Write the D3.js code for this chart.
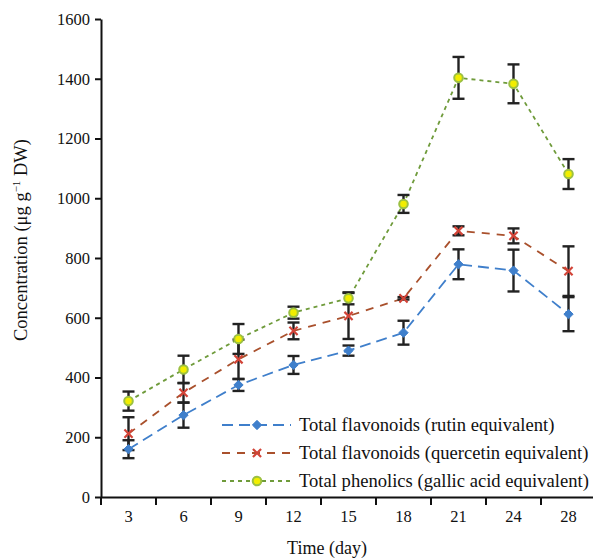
<!DOCTYPE html>
<html>
<head>
<meta charset="utf-8">
<script src="https://cdn.jsdelivr.net/npm/d3@7"></script>
<style>
  body { margin: 0; background: #fff; }
  svg { display: block; }
  svg text { font-family: "Liberation Serif", "Times New Roman", serif; }
</style>
</head>
<body>
<svg id="chart" width="593" height="559"></svg>
<script>
// data
var days = ["3", "6", "9", "12", "15", "18", "21", "24", "28"]
var rutin = [160, 274, 375, 442, 490, 550, 779, 758, 612]
var rutinErr = [30, 42, 20, 30, 17, 40, 50, 70, 57]
var quercetin = [212, 349, 461, 556, 606, 665, 891, 874, 756]
var quercetinErr = [55, 33, 66, 28, 77, 4, 15, 25, 83]
var phenolics = [321, 427, 529, 617, 665, 981, 1403, 1383, 1081]
var phenolicsErr = [32, 46, 50, 20, 20, 30, 70, 65, 50]
var yTicks = [0, 200, 400, 600, 800, 1000, 1200, 1400, 1600]

var series = [
  {name: "Total flavonoids (rutin equivalent)", values: rutin, err: rutinErr,
   line: "#3f7fcb", dash: "11,6", marker: "diamond"},
  {name: "Total flavonoids (quercetin equivalent)", values: quercetin, err: quercetinErr,
   line: "#a9502c", dash: "8,7", marker: "cross"},
  {name: "Total phenolics (gallic acid equivalent)", values: phenolics, err: phenolicsErr,
   line: "#6f9b3b", dash: "4,4", marker: "circle"}
]

var svg = d3.select("#chart")

var x = d3.scaleBand().domain(days).range([101, 596])
var y = d3.scaleLinear().domain([0, 1600]).range([497, 19])

var cx = function(i){ return x(days[i]) + x.bandwidth() / 2 }

// axes
var yAxis = svg.append("g").attr("transform", "translate(101,0)")
  .call(d3.axisLeft(y).tickValues(yTicks).tickFormat(d3.format("d"))
    .tickSize(6).tickPadding(5).tickSizeOuter(0))
yAxis.attr("font-family", null).attr("font-size", 16.5)
yAxis.select(".domain").attr("stroke", "#111").attr("stroke-width", 2)
yAxis.selectAll(".tick line").attr("stroke", "#111").attr("stroke-width", 2)
yAxis.selectAll("text").attr("fill", "#111")

var xAxis = svg.append("g").attr("transform", "translate(0,497)")
  .call(d3.axisBottom(x).tickSize(0).tickPadding(13))
xAxis.attr("font-family", null).attr("font-size", 16.5)
xAxis.select(".domain").attr("stroke", "#111").attr("stroke-width", 2)
xAxis.selectAll("text").attr("fill", "#111")

// boundary ticks between categories
svg.append("g").selectAll("line").data(days).enter().append("line")
  .attr("x1", function(d){ return x(d) }).attr("x2", function(d){ return x(d) })
  .attr("y1", 497).attr("y2", 505)
  .attr("stroke", "#111").attr("stroke-width", 2)

// axis titles
svg.append("text").attr("x", 327).attr("y", 554).attr("text-anchor", "middle")
  .attr("font-size", 18).attr("fill", "#111").text("Time (day)")

var yt = svg.append("text").attr("transform", "translate(27,240) rotate(-90)")
  .attr("text-anchor", "middle").attr("font-size", 18.5).attr("fill", "#111")
yt.append("tspan").text("Concentration (μg g")
yt.append("tspan").attr("dy", -7).attr("font-size", 11).text("−1")
yt.append("tspan").attr("dy", 7).text(" DW)")

// lines
var line = d3.line().x(function(d, i){ return cx(i) }).y(function(d){ return y(d) })
series.forEach(function(s){
  svg.append("path").datum(s.values)
    .attr("d", line).attr("fill", "none")
    .attr("stroke", s.line).attr("stroke-width", 1.8)
    .attr("stroke-dasharray", s.dash)
})

// error bars
series.forEach(function(s){
  var g = svg.append("g").attr("stroke", "#222").attr("stroke-width", 2.4)
  s.values.forEach(function(v, i){
    var lo = y(v - s.err[i]), hi = y(v + s.err[i]), c = cx(i)
    g.append("line").attr("x1", c).attr("x2", c).attr("y1", lo).attr("y2", hi)
    g.append("line").attr("x1", c - 6).attr("x2", c + 6).attr("y1", lo).attr("y2", lo)
    g.append("line").attr("x1", c - 6).attr("x2", c + 6).attr("y1", hi).attr("y2", hi)
  })
})

function drawMarker(g, type, px, py){
  if (type == "diamond") {
    g.append("path").attr("d", d3.symbol().type(d3.symbolDiamond2).size(55)())
      .attr("transform", "translate(" + px + "," + py + ")")
      .attr("fill", "#3f7fcb").attr("stroke", "#3f7fcb").attr("stroke-width", 1)
  } else if (type == "cross") {
    g.append("path").attr("d", d3.symbol().type(d3.symbolX).size(45)())
      .attr("transform", "translate(" + px + "," + py + ")")
      .attr("fill", "none").attr("stroke", "#d24438").attr("stroke-width", 2.2)
  } else {
    g.append("circle").attr("cx", px).attr("cy", py).attr("r", 4.3)
      .attr("fill", "#f2ee00").attr("stroke", "#9cc043").attr("stroke-width", 2)
  }
}

// markers
series.forEach(function(s){
  var g = svg.append("g")
  s.values.forEach(function(v, i){ drawMarker(g, s.marker, cx(i), y(v)) })
})

// legend
var legend = svg.append("g")
series.forEach(function(s, i){
  var ly = 425 + i * 28
  legend.append("line").attr("x1", 222).attr("x2", 291).attr("y1", ly).attr("y2", ly)
    .attr("stroke", s.line).attr("stroke-width", 1.8).attr("stroke-dasharray", s.dash)
  drawMarker(legend, s.marker, 257, ly)
  legend.append("text").attr("x", 299).attr("y", ly + 6)
    .attr("font-size", 18.6).attr("fill", "#111").text(s.name)
})
</script>
</body>
</html>
